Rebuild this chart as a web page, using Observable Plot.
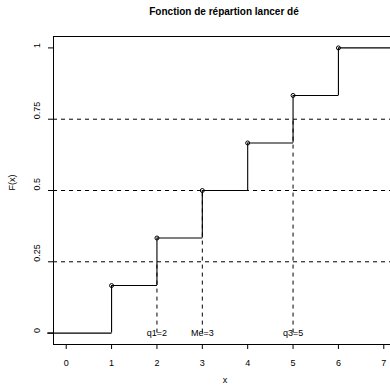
<!DOCTYPE html>
<html>
<head>
<meta charset="utf-8">
<script src="https://cdn.jsdelivr.net/npm/d3@7"></script>
<script src="https://cdn.jsdelivr.net/npm/@observablehq/plot@0.6"></script>
<style>
  html, body { margin: 0; padding: 0; background: #fff; }
  #chart { position: relative; width: 390px; height: 390px; overflow: hidden; }
  #title { position: absolute; left: 0; top: 6px; width: 448px; text-align: center;
    font: bold 10px "Liberation Sans", Arial, sans-serif; color: #000; }
  svg { position: absolute; left: 0; top: 0; }
</style>
</head>
<body>
<div id="chart"><div id="title">Fonction de répartion lancer dé</div></div>
<script>
// Data
const knots = [1, 2, 3, 4, 5, 6];
const cdf = [1/6, 2/6, 3/6, 4/6, 5/6, 1];
const quantileLevels = [0.25, 0.5, 0.75];
const quantileX = [2, 3, 5];
const quantileLabels = ["q1=2", "Me=3", "q3=5"];
const xTicks = [0, 1, 2, 3, 4, 5, 6, 7];
const yTicks = [0, 0.25, 0.5, 0.75, 1];
const yTickLabels = ["0", "0.25", "0.5", "0.75", "1"];
const xDomain = [-0.28, 7.28];
const yDomain = [-0.04, 1.04];
const stepStart = -0.42, stepEnd = 7.6;

// Build step segments
const horiz = [];
const xs = [stepStart, ...knots, stepEnd];
const ys = [0, ...cdf];
for (let i = 0; i < ys.length; i++) horiz.push({x1: xs[i], x2: xs[i + 1], y: ys[i]});
const verts = knots.map((k, i) => ({x: k, y1: i === 0 ? 0 : cdf[i - 1], y2: cdf[i]}));
const pts = knots.map((k, i) => ({x: k, y: cdf[i]}));
const qs = quantileX.map((x, i) => ({x, level: quantileLevels[i], label: quantileLabels[i]}));

const font = '"Liberation Sans", Arial, sans-serif';

const plot = Plot.plot({
  width: 390,
  height: 390,
  marginLeft: 53,
  marginRight: -6,
  marginTop: 36,
  marginBottom: 46,
  style: {fontFamily: font, fontSize: "9px", color: "#000", background: "transparent", overflow: "visible"},
  x: {domain: xDomain},
  y: {domain: yDomain},
  marks: [
    Plot.ruleY(quantileLevels, {y: d => d, stroke: "#000", strokeWidth: 1, strokeDasharray: "4,4"}),
    Plot.ruleX(qs, {x: "x", y1: 0, y2: "level", stroke: "#000", strokeWidth: 1, strokeDasharray: "4,4"}),
    Plot.link(horiz, {x1: "x1", x2: "x2", y1: "y", y2: "y", stroke: "#000", strokeWidth: 1.1}),
    Plot.ruleX(verts, {x: "x", y1: "y1", y2: "y2", stroke: "#000", strokeWidth: 1.1}),
    Plot.dot(pts, {x: "x", y: "y", r: 2, stroke: "#000", strokeWidth: 1, fill: "none"}),
    Plot.text(qs, {x: "x", y: 0, text: "label", fontSize: 9, fill: "#000"}),
    Plot.frame({stroke: "#000", strokeWidth: 1}),
    Plot.axisX(xTicks, {tickSize: 5, tickPadding: 10, fontSize: 9, label: null, stroke: "#000"}),
    Plot.axisY(yTicks, {tickSize: 5, text: null, label: null, stroke: "#000"}),
    Plot.text(yTicks, {y: d => d, text: d => yTickLabels[yTicks.indexOf(d)], frameAnchor: "left", dx: -16, rotate: -90, fontSize: 9, fill: "#000"}),
    Plot.text(["x"], {frameAnchor: "bottom", dy: 38, fontSize: 9, fill: "#000"}),
    Plot.text(["F(x)"], {frameAnchor: "left", dx: -41, rotate: -90, fontSize: 9, fill: "#000"})
  ]
});
document.getElementById("chart").appendChild(plot);
</script>
</body>
</html>
